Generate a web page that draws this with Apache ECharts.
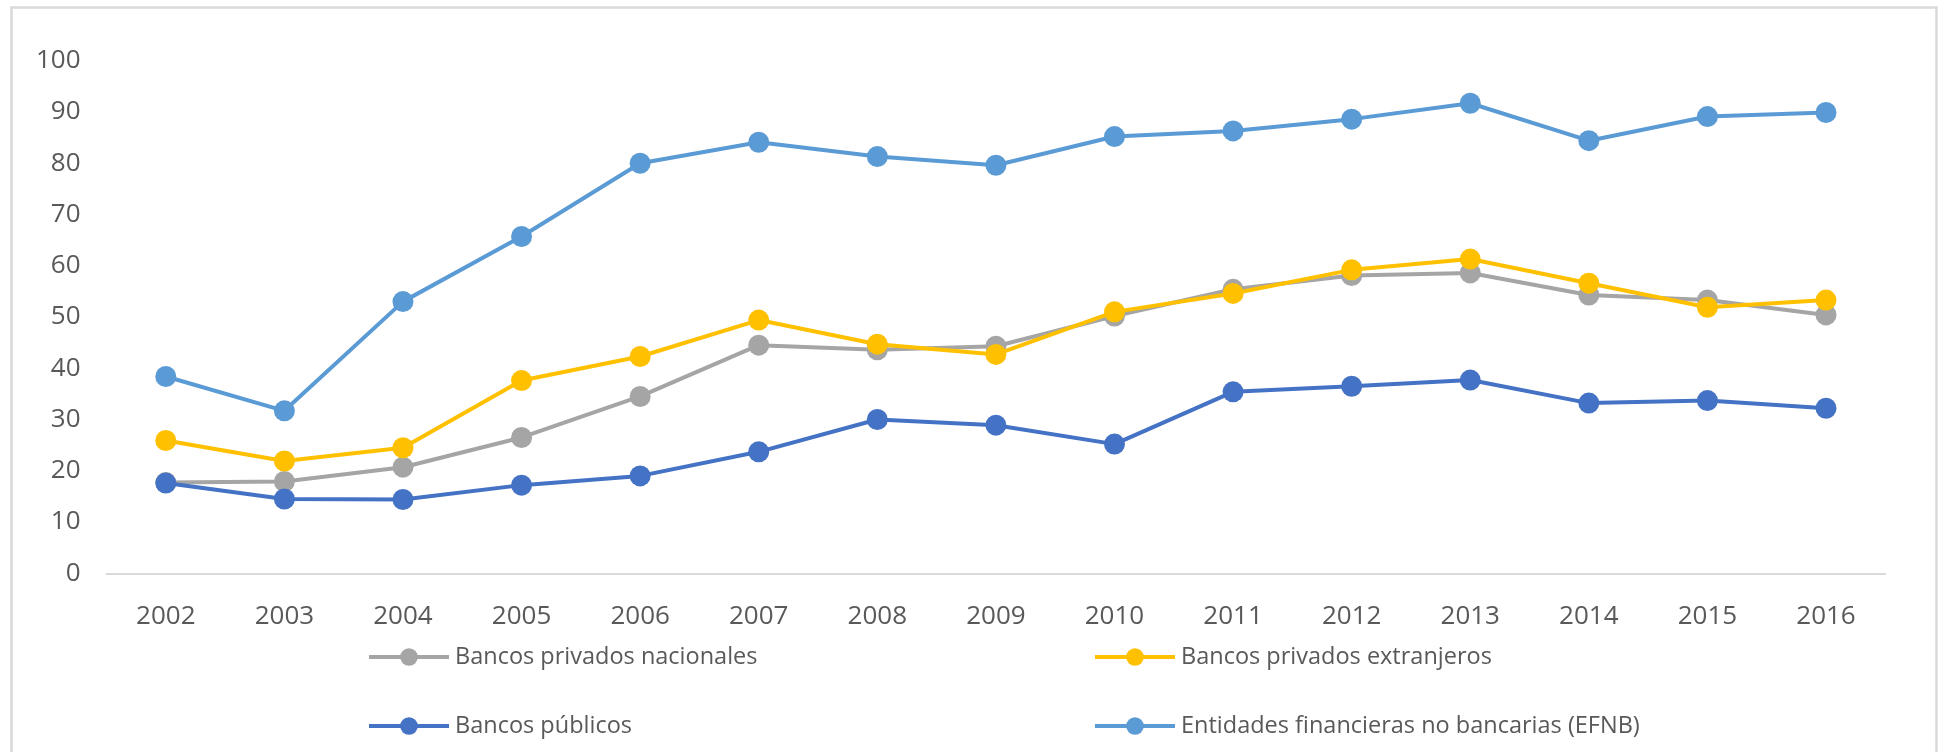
<!DOCTYPE html>
<html>
<head>
<meta charset="utf-8">
<script src="https://cdn.jsdelivr.net/npm/echarts@6/dist/echarts.min.js"></script>
<style>
html,body{margin:0;padding:0;background:#fff;}
#chart{width:1939px;height:752px;}
</style>
</head>
<body>
<div id="chart"></div>
<script>
const years = ['2002','2003','2004','2005','2006','2007','2008','2009','2010','2011','2012','2013','2014','2015','2016'];
const nacionales = [17.7, 17.9, 20.7, 26.5, 34.5, 44.5, 43.6, 44.3, 50.2, 55.4, 58.1, 58.6, 54.3, 53.3, 50.4];
const extranjeros = [25.9, 21.9, 24.5, 37.6, 42.3, 49.4, 44.7, 42.7, 51.0, 54.6, 59.2, 61.3, 56.6, 51.9, 53.3];
const publicos = [17.6, 14.5, 14.4, 17.2, 19.0, 23.7, 30.0, 28.9, 25.2, 35.4, 36.5, 37.7, 33.2, 33.7, 32.2];
const efnb = [38.4, 31.7, 53.0, 65.7, 80.0, 84.1, 81.3, 79.6, 85.2, 86.3, 88.6, 91.7, 84.4, 89.1, 89.9];
const seriesNames = ['Bancos privados nacionales','Bancos privados extranjeros','Bancos públicos','Entidades financieras no bancarias (EFNB)'];
const seriesData = [nacionales, extranjeros, publicos, efnb];
const colors = ['#A5A5A5','#FFC000','#4472C4','#5B9BD5'];

const FONT = '"Open Sans", sans-serif';
const chart = echarts.init(document.getElementById('chart'), null, {renderer:'canvas'});

const legendPos = [
  {left: 367, top: 645},
  {left: 1093, top: 645},
  {left: 367, top: 714},
  {left: 1093, top: 714}
];

chart.setOption({
  animation: false,
  backgroundColor: '#fff',
  graphic: [{
    type: 'rect',
    shape: {x: 11.5, y: 7.5, width: 1925, height: 800},
    style: {fill: 'none', stroke: '#d9d9d9', lineWidth: 2.5},
    silent: true
  }],
  grid: {left: 106.5, right: 53.7, top: 60.7, bottom: 178.7, containLabel: false},
  legend: seriesNames.map((n, i) => ({
    data: [n],
    left: legendPos[i].left,
    top: legendPos[i].top,
    padding: 0,
    itemWidth: 80,
    itemHeight: 22,
    itemGap: 0,
    selectedMode: false,
    lineStyle: {width: 4},
    textStyle: {fontFamily: FONT, fontSize: 23.5, color: '#595959', padding: [0,0,0,1]}
  })),
  xAxis: {
    type: 'category',
    data: years,
    boundaryGap: true,
    axisLine: {show: true, lineStyle: {color: '#d9d9d9', width: 2}},
    axisTick: {show: false},
    axisLabel: {fontFamily: FONT, fontSize: 26, color: '#595959', margin: 30, lineHeight: 26, interval: 0},
    splitLine: {show: false}
  },
  yAxis: {
    type: 'value',
    min: 0, max: 100, interval: 10,
    axisLine: {show: false},
    axisTick: {show: false},
    axisLabel: {fontFamily: FONT, fontSize: 26, color: '#595959', margin: 26},
    splitLine: {show: false}
  },
  series: seriesNames.map((n, i) => ({
    name: n,
    type: 'line',
    data: seriesData[i],
    symbol: 'circle',
    symbolSize: 21,
    showSymbol: true,
    color: colors[i],
    lineStyle: {color: colors[i], width: 4},
    itemStyle: {color: colors[i]},
    z: 2 + i
  }))
});
</script>
</body>
</html>
